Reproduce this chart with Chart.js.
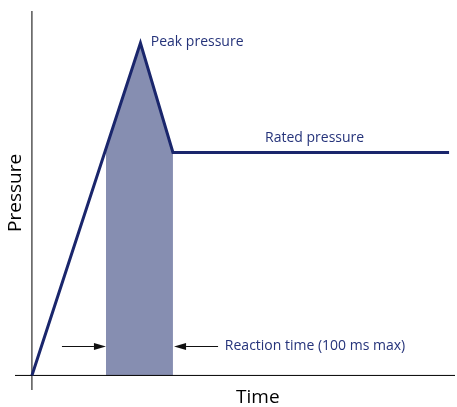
<!DOCTYPE html>
<html>
<head>
<meta charset="utf-8">
<script src="https://cdn.jsdelivr.net/npm/chart.js@4/dist/chart.umd.min.js"></script>
<style>
html,body{margin:0;padding:0;background:#fff;}
#wrap{width:457px;height:407px;position:relative;}
</style>
</head>
<body>
<div id="wrap"><canvas id="c" width="457" height="407"></canvas></div>
<script>
// Pressure curve (time, pressure) in arbitrary units
const curveTime = [0, 25.65, 33.33, 98.6];
const curvePressure = [0, 91.2, 61.2, 61.2];
// Reaction-time shaded window
const shadeTime = [17.5, 25.65, 33.33];
const shadePressure = [62.2, 91.2, 61.2];
// Axis extents
const axisXRange = [-4, 100];
const axisYRange = [-4, 100];
// Annotations
const labelTexts = ["Peak pressure", "Rated pressure", "Reaction time (100 ms max)"];
const labelX = [28.1, 55.1, 45.6];
const labelY = [91.5, 65.1, 8.0];
// Arrows [fromX, toX] at arrowY
const arrowFrom = [7.1, 44.0];
const arrowTo = [17.5, 33.6];
const arrowY = 8.2;
const xTitle = "Time";
const yTitle = "Pressure";
const xTitlePos = 53.4;
const yTitlePos = 50.1;

const navy = '#1a266c';
const textNavy = '#25337a';
const FONT = '"Open Sans", "Noto Sans", sans-serif';

const pts = (xs, ys) => xs.map((x, i) => ({x, y: ys[i]}));

const annot = {
  id: 'annot',
  afterDatasetsDraw(chart) {
    const ctx = chart.ctx, xs = chart.scales.x, ys = chart.scales.y;
    ctx.save();
    // arrows
    ctx.strokeStyle = '#111';
    ctx.fillStyle = '#111';
    ctx.lineWidth = 1;
    for (let i = 0; i < arrowFrom.length; i++) {
      const x0 = xs.getPixelForValue(arrowFrom[i]);
      const x1 = xs.getPixelForValue(arrowTo[i]);
      const y = Math.round(ys.getPixelForValue(arrowY)) + 0.5;
      const dir = Math.sign(x1 - x0);
      const hl = 12, hw = 3.5;
      ctx.beginPath();
      ctx.moveTo(x0, y);
      ctx.lineTo(x1 - dir * hl, y);
      ctx.stroke();
      ctx.beginPath();
      ctx.moveTo(x1, y);
      ctx.lineTo(x1 - dir * hl, y - hw);
      ctx.lineTo(x1 - dir * hl, y + hw);
      ctx.closePath();
      ctx.fill();
    }
    // labels
    ctx.font = '14px ' + FONT;
    ctx.fillStyle = textNavy;
    ctx.textAlign = 'left';
    ctx.textBaseline = 'middle';
    for (let i = 0; i < labelTexts.length; i++) {
      ctx.fillText(labelTexts[i], xs.getPixelForValue(labelX[i]), ys.getPixelForValue(labelY[i]));
    }
    // axis titles
    ctx.font = '19px ' + FONT;
    ctx.fillStyle = '#000';
    ctx.textAlign = 'center';
    ctx.fillText(xTitle, xs.getPixelForValue(xTitlePos), chart.chartArea.bottom + 8);
    ctx.translate(chart.chartArea.left + 1, ys.getPixelForValue(yTitlePos));
    ctx.rotate(-Math.PI / 2);
    ctx.fillText(yTitle, 0, 0);
    ctx.restore();
  }
};

new Chart(document.getElementById('c'), {
  type: 'line',
  data: {
    datasets: [
      {
        data: pts(curveTime, curvePressure),
        borderColor: navy,
        borderWidth: 3,
        borderJoinStyle: 'miter',
        pointRadius: 0,
        fill: false,
        order: 0
      },
      {
        data: pts(shadeTime, shadePressure),
        borderWidth: 0,
        borderColor: 'rgba(0,0,0,0)',
        backgroundColor: '#868eb1',
        pointRadius: 0,
        fill: 'origin',
        order: 2
      },
      {
        data: [{x: axisXRange[0], y: 0}, {x: axisXRange[1], y: 0}],
        borderColor: '#000',
        borderWidth: 1,
        pointRadius: 0,
        fill: false,
        order: 1
      },
      {
        data: [{x: 0, y: axisYRange[0]}, {x: 0, y: axisYRange[1]}],
        borderColor: '#000',
        borderWidth: 1,
        pointRadius: 0,
        fill: false,
        order: 1
      }
    ]
  },
  options: {
    responsive: false,
    animation: false,
    devicePixelRatio: 1,
    layout: {padding: {left: 15, right: 2, top: 11, bottom: 17}},
    plugins: {legend: {display: false}, tooltip: {enabled: false}},
    scales: {
      x: {type: 'linear', min: axisXRange[0], max: axisXRange[1], display: false},
      y: {type: 'linear', min: axisYRange[0], max: axisYRange[1], display: false}
    }
  },
  plugins: [annot]
});
</script>
</body>
</html>
